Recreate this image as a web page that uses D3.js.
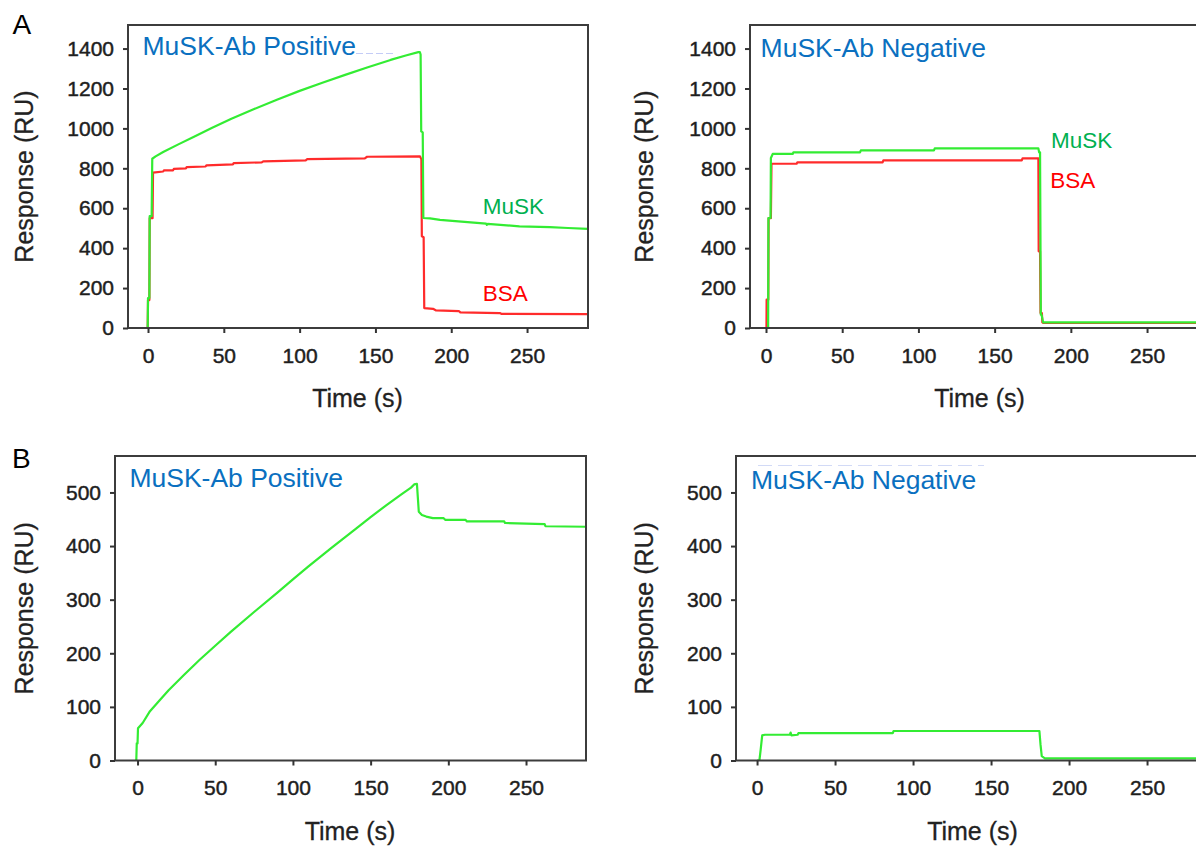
<!DOCTYPE html>
<html><head><meta charset="utf-8">
<script src="https://cdn.jsdelivr.net/npm/d3@7"></script>
<style>
body{margin:0;background:#fff}
svg{display:block}
text{font-family:"Liberation Sans",Arial,Helvetica,sans-serif}
</style>
</head><body>
<svg id="c" width="1196" height="847"></svg>
<script>
// ---------- data ----------
const timeTicks = [0, 50, 100, 150, 200, 250];
const respTicksA = [0, 200, 400, 600, 800, 1000, 1200, 1400];
const respTicksB = [0, 100, 200, 300, 400, 500];
const panelLetters = ["A", "B"];
const panelTitles = ["MuSK-Ab Positive", "MuSK-Ab Negative", "MuSK-Ab Positive", "MuSK-Ab Negative"];
const seriesNames = ["MuSK", "BSA"];
const xLabel = "Time (s)";
const yLabel = "Response (RU)";

// [time (s), response (RU)]
const aPosMuSK = [[-0.2,0],[0,150],[0.9,150],[1.1,560],[2.4,560],[2.8,848],[5,860],[10,882],[20,920],[30,957],[42,1002],[55,1048],[70,1097],[85,1144],[100,1188],[115,1229],[130,1268],[145,1306],[160,1343],[170,1365],[178.3,1382],[179.3,1382],[179.8,1370],[180.2,985],[181.2,980],[181.6,551],[186,549],[192.6,542],[204.7,534],[223,523],[223.5,517],[224,522],[245,509],[265,505],[277,501],[290,497]];
const aPosBSA = [[-0.2,0],[0,140],[0.9,140],[1.1,550],[3.0,550],[3.3,778],[10,784],[10.5,790],[16.5,790],[17,797],[25,800],[25.5,806],[38,809],[38.5,815],[56,820],[56.5,826],[75,830],[76,835],[104,840],[105,846],[143,850],[144.5,858],[179.4,860],[180.3,845],[180.6,460],[181.8,455],[182.2,100],[188,96],[190,88],[205,85],[206,78],[232,75],[233,71],[290,70]];
const aNegMuSK = [[1.4,0],[1.6,551],[3.0,551],[3.2,852],[4.4,872],[17.5,872],[18,880],[61.7,880],[62.2,890],[110.2,890],[110.7,900],[178.7,900],[179.2,880],[179.8,880],[180.3,67],[180.8,67],[181.8,28],[320,28]];
const aNegBSA = [[0.3,0],[0.4,142],[1.5,142],[1.7,550],[3.2,550],[3.6,823],[20.1,823],[20.6,830],[76.5,830],[77,840],[167.8,840],[168.3,850],[178.7,850],[178.9,384],[179.8,384],[180.1,75],[181,75],[181.3,28],[182,25],[320,25]];
const bPosMuSK = [[-0.8,0],[-0.5,32],[0,32],[0.3,60],[3.3,70],[8,92],[14.4,113],[20,131],[30,160],[40,188],[50,214],[60,240],[75,277],[90,313],[100,338],[110,362],[125,397],[140,431],[150,454],[160,476],[170,497],[176,509],[178,515],[179.8,516],[180.4,490],[181,464],[183,458],[185.8,455],[190,452],[197,452],[198,449],[211,449],[212,446],[236,446],[236.5,443],[262,441],[262.5,437],[289,436]];
const bNegMuSK = [[0,0],[1.5,0],[2.3,20],[3.3,47],[5,48],[21,48],[21.5,52],[22,47],[26,48],[26.5,51],[87,51],[87.5,55],[181,55],[181.7,30],[182.5,8],[184.5,4],[330,4]];

// ---------- layout ----------
const layout = [
  {x0:128, x1:588,  y0:25,  y1:328,   t0:-13.2, t1:290.2, vmax:1518, ticks:respTicksA},
  {x0:750, x1:1210, y0:25,  y1:328,   t0:-10.5, t1:291.3, vmax:1518, ticks:respTicksA},
  {x0:115, x1:586,  y0:456, y1:760.5, t0:-14.5, t1:288.6, vmax:568,  ticks:respTicksB},
  {x0:736, x1:1211, y0:456, y1:760.5, t0:-13.5, t1:291,   vmax:568,  ticks:respTicksB}
];
const titlePos = [[142.5,54.5],[760.6,56.5],[129.4,486.7],[751,489]];
const yLabelX = [32.5, 653, 32.5, 653];
const GREEN = "#33ec33", RED = "#ff2b2b", BLUE = "#0a70c0";
const series = [
  [{d:aPosBSA, c:RED},{d:aPosMuSK, c:GREEN}],
  [{d:aNegBSA, c:RED},{d:aNegMuSK, c:GREEN}],
  [{d:bPosMuSK, c:GREEN}],
  [{d:bNegMuSK, c:GREEN}]
];
// series labels [panel, name, t, v, colour]
const seriesLabels = [
  [0, seriesNames[0], 220.8, 571, "#00b050"],
  [0, seriesNames[1], 220.8, 137, "#ff0000"],
  [1, seriesNames[0], 187, 902, "#00b050"],
  [1, seriesNames[1], 186.5, 701, "#ff0000"]
];

const svg = d3.select("#c");
const defs = svg.append("defs");

layout.forEach((L, i) => {
  const x = d3.scaleLinear().domain([L.t0, L.t1]).range([L.x0, L.x1]);
  const y = d3.scaleLinear().domain([0, L.vmax]).range([L.y1, L.y0]);
  const g = svg.append("g");

  defs.append("clipPath").attr("id", "clip" + i)
    .append("rect").attr("x", L.x0).attr("y", L.y0).attr("width", L.x1 - L.x0).attr("height", L.y1 - L.y0);

  // lines
  const line = d3.line().x(d => x(d[0])).y(d => y(d[1]));
  series[i].forEach(s => {
    g.append("path").attr("d", line(s.d)).attr("fill", "none")
      .attr("stroke", s.c).attr("stroke-width", 2.2).attr("stroke-linejoin", "round")
      .attr("clip-path", `url(#clip${i})`);
  });

  // frame
  g.append("rect").attr("x", L.x0).attr("y", L.y0).attr("width", L.x1 - L.x0).attr("height", L.y1 - L.y0)
    .attr("fill", "none").attr("stroke", "#3c3c3c").attr("stroke-width", 2);

  // axes
  const ya = g.append("g").attr("transform", `translate(${L.x0},0)`)
    .call(d3.axisLeft(y).tickValues(L.ticks).tickSize(5).tickPadding(9).tickFormat(d3.format("d")));
  const xa = g.append("g").attr("transform", `translate(0,${L.y1})`)
    .call(d3.axisBottom(x).tickValues(timeTicks).tickSize(5).tickPadding(15).tickFormat(d3.format("d")));
  [ya, xa].forEach(a => {
    a.select(".domain").remove();
    a.selectAll(".tick line").attr("stroke", "#333").attr("stroke-width", 2);
    a.selectAll(".tick text").attr("fill", "#1e1e1e").attr("stroke", "#1e1e1e").attr("stroke-width", 0.45)
      .style("font-size", "21px")
      .style("font-family", '"Liberation Sans",Arial,sans-serif');
  });

  // title
  g.append("text").attr("x", titlePos[i][0]).attr("y", titlePos[i][1])
    .attr("fill", BLUE).style("font-size", "26.5px").text(panelTitles[i]);

  // axis labels
  g.append("text").attr("x", (L.x0 + Math.min(L.x1, 1210)) / 2 - 0.5).attr("y", L.y1 + 79)
    .attr("text-anchor", "middle").attr("fill", "#222").attr("stroke", "#222").attr("stroke-width", 0.3)
    .style("font-size", "25px").text(xLabel);
  g.append("text").attr("transform", `translate(${yLabelX[i]},${(L.y0 + L.y1) / 2}) rotate(-90)`)
    .attr("text-anchor", "middle").attr("fill", "#222").attr("stroke", "#222").attr("stroke-width", 0.3)
    .style("font-size", "25px").text(yLabel);

  // series labels
  seriesLabels.filter(s => s[0] === i).forEach(s => {
    g.append("text").attr("x", x(s[2])).attr("y", y(s[3])).attr("fill", s[4])
      .style("font-size", "22.5px").text(s[1]);
  });
});

// faint artefact dashes near titles
svg.append("line").attr("x1", 356).attr("x2", 393).attr("y1", 53.5).attr("y2", 53.5)
  .attr("stroke", "#c4ccf6").attr("stroke-width", 1.2).attr("stroke-dasharray", "7,3");
svg.append("line").attr("x1", 758).attr("x2", 984).attr("y1", 465.5).attr("y2", 465.5)
  .attr("stroke", "#d2daf6").attr("stroke-width", 1.2).attr("stroke-dasharray", "14,6");

// panel letters
svg.append("text").attr("x", 12.5).attr("y", 33.5).attr("fill", "#000").style("font-size", "28px").text(panelLetters[0]);
svg.append("text").attr("x", 12).attr("y", 467.5).attr("fill", "#000").style("font-size", "28px").text(panelLetters[1]);
</script>
</body></html>
